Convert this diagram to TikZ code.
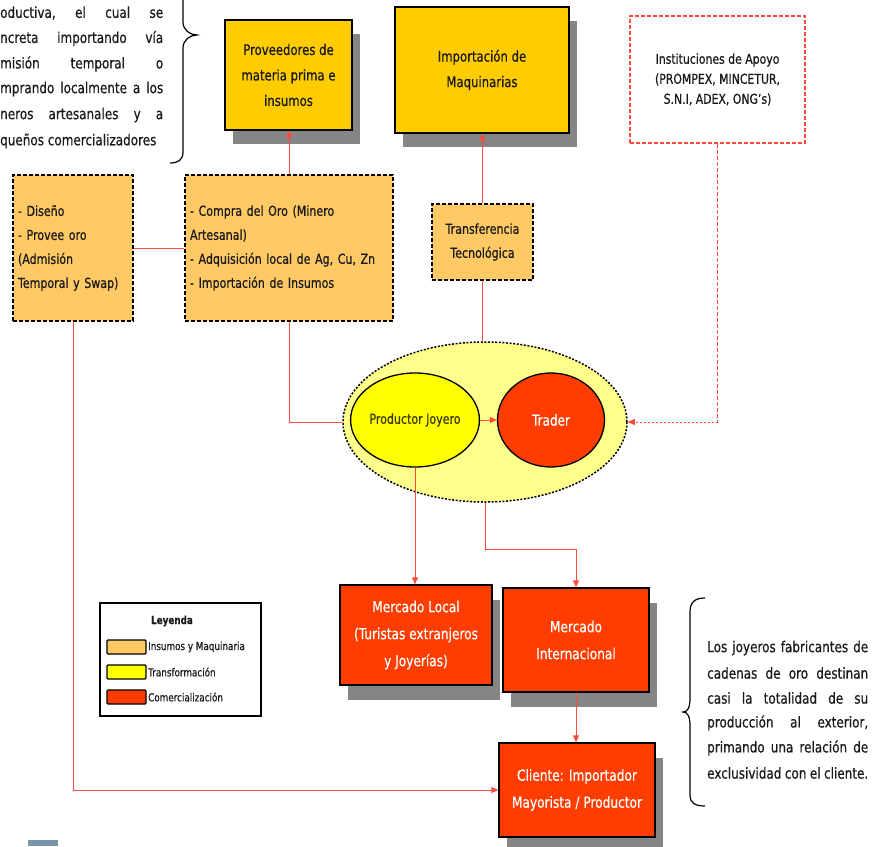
\documentclass[tikz,border=0pt]{standalone}
\usepackage{fontspec}
\setmainfont{DejaVu Sans}[FakeStretch=0.8,FakeBold=0.6]
\usetikzlibrary{shapes.geometric,shadows,arrows.meta}
\definecolor{gold}{HTML}{FFCC00}
\definecolor{lightorange}{HTML}{FFC966}
\definecolor{paleyellow}{HTML}{FFFF8C}
\definecolor{brightyellow}{HTML}{FFFF00}
\definecolor{redorange}{HTML}{FF3D00}
\definecolor{linkred}{HTML}{FF4B3E}
\definecolor{shadowgray}{HTML}{858585}
\definecolor{darktext}{HTML}{1A1A1A}
\definecolor{olivetext}{HTML}{3A3A00}
\newcommand\fsz[2]{\fontsize{#1}{#2}\selectfont}
\begin{document}
\begin{tikzpicture}[x=1pt,y=-1pt,
  goldbox/.style={draw=black,line width=1.3pt,fill=gold,align=center,inner sep=0pt,
    text=darktext,font=\fsz{14.6}{25.5},
    drop shadow={shadow xshift=8pt,shadow yshift=-14pt,fill=shadowgray,opacity=1}},
  redbox/.style={draw=black,line width=1.3pt,fill=redorange,align=center,inner sep=0pt,
    text=white,font=\fsz{15.2}{27},
    drop shadow={shadow xshift=8pt,shadow yshift=-15pt,fill=shadowgray,opacity=1}},
  inbox/.style={draw=black,line width=1.3pt,dash pattern=on 4pt off 2pt,fill=lightorange,
    inner sep=5pt,align=left,text=darktext,font=\fsz{13.8}{24}},
  instbox/.style={draw=linkred,line width=1.2pt,dash pattern=on 4pt off 2pt,fill=white,
    align=center,inner sep=0pt,text=darktext,font=\fsz{13.6}{20}},
  oval/.style={ellipse,inner sep=0pt,line width=1.3pt,draw=black},
  plaintext/.style={inner sep=0pt,text=darktext,font=\fsz{15}{25}},
  link/.style={draw=linkred,line width=1pt},
  tip/.style={-{Triangle[length=7pt,width=6pt]}},
  swatch/.style={draw=black,line width=1.2pt,rounded corners=1pt,minimum width=39pt,minimum height=14pt,inner sep=0pt},
  legtext/.style={inner sep=0pt,anchor=west,text=darktext,font=\fsz{11}{12}}
]
\path[use as bounding box] (0,0) rectangle (878,846);
\clip (0,0) rectangle (878,846);

% top-left text (cut at the left edge)
\node[plaintext,anchor=west] (tl1) at (0,13) {\hbox to 163pt{oductiva,\hfill el\hfill cual\hfill se}};
\node[plaintext,anchor=west] (tl2) at (0,38.5) {\hbox to 163pt{ncreta\hfill importando\hfill vía}};
\node[plaintext,anchor=west] (tl3) at (0,64) {\hbox to 163pt{misión\hfill temporal\hfill o}};
\node[plaintext,anchor=west] (tl4) at (0,89) {\hbox to 163pt{mprando\hfill localmente\hfill a\hfill los}};
\node[plaintext,anchor=west] (tl5) at (0,115) {\hbox to 163pt{neros\hfill artesanales\hfill y\hfill a}};
\node[plaintext,anchor=west] (tl6) at (0,141) {queños comercializadores};
% brace top-left
\draw[line width=1.2pt,black] (170,-25) .. controls (178,-25) and (183,-20) .. (183,-12) -- (183,22)
  .. controls (183,30) and (190,35) .. (197,35) .. controls (190,35) and (183,40) .. (183,48)
  -- (183,152) .. controls (183,160) and (178,163) .. (170,163);

% top boxes
\node[goldbox,minimum width=127pt,minimum height=110pt] (prov) at (288.5,75) {Proveedores de\\materia prima e\\insumos};
\node[goldbox,minimum width=174pt,minimum height=126pt] (imp) at (482,70) {Importación de\\Maquinarias};
\node[instbox,minimum width=175pt,minimum height=127pt] (inst) at (717.5,79.5) {\raisebox{-2pt}{\parbox{170pt}{\centering Instituciones de Apoyo\\(PROMPEX, MINCETUR,\\S.N.I, ADEX, ONG’s)}}};

% input boxes
\node[inbox,text width=110pt,minimum height=146pt] (diseno) at (73,248) {- Diseño\\- Provee oro\\(Admisión\\Temporal y Swap)};
\node[inbox,text width=198pt,minimum height=146pt] (compra) at (289,248) {- Compra del Oro (Minero\\Artesanal)\\- Adquisición local de Ag, Cu, Zn\\- Importación de Insumos};
\node[inbox,align=center,inner sep=0pt,minimum width=101pt,minimum height=76pt] (trans) at (482.5,242) {Transferencia\\Tecnológica};

% ellipses
\node[oval,fill=paleyellow,dash pattern=on 2pt off 1.6pt,line width=1.5pt,minimum width=284pt,minimum height=160pt] (outer) at (485,422) {};
\node[oval,fill=brightyellow,minimum width=106pt,minimum height=94pt,text=olivetext,font=\fsz{13.8}{16}] (prod) at (415,420) {Productor Joyero};
\node[oval,fill=redorange,minimum width=107pt,minimum height=94pt,text=white,font=\fsz{15}{16}] (trader) at (551,420) {Trader};

% markets
\node[redbox,minimum width=152pt,minimum height=100pt] (ml) at (416,635) {Mercado Local\\(Turistas extranjeros\\y Joyerías)};
\node[redbox,minimum width=146pt,minimum height=104pt] (mi) at (576,640) {Mercado\\Internacional};
\node[redbox,minimum width=156pt,minimum height=94pt] (cli) at (577,790) {Cliente: Importador\\Mayorista / Productor};

% legend
\node[draw=black,line width=1.2pt,fill=white,minimum width=161pt,minimum height=113pt,inner sep=0pt] (leg) at (180.5,659.5) {};
\node[inner sep=0pt,text=darktext,font=\bfseries\fsz{11}{12}] (legtitle) at (172,621) {Leyenda};
\node[swatch,fill=lightorange] (sw1) at (126.5,647) {};
\node[swatch,fill=brightyellow] (sw2) at (126.5,672) {};
\node[swatch,fill=redorange] (sw3) at (126.5,697) {};
\node[legtext] (lt1) at (148,647) {Insumos y Maquinaria};
\node[legtext] (lt2) at (148,672) {Transformación};
\node[legtext] (lt3) at (148,697) {Comercialización};

% right text
\node[plaintext,anchor=west] (rt1) at (707,648) {\hbox to 161pt{Los\hfill joyeros\hfill fabricantes\hfill de}};
\node[plaintext,anchor=west] (rt2) at (707,673) {\hbox to 161pt{cadenas\hfill de\hfill oro\hfill destinan}};
\node[plaintext,anchor=west] (rt3) at (707,698) {\hbox to 161pt{casi\hfill la\hfill totalidad\hfill de\hfill su}};
\node[plaintext,anchor=west] (rt4) at (707,723) {\hbox to 161pt{producción\hfill al\hfill exterior,}};
\node[plaintext,anchor=west] (rt5) at (707,748) {\hbox to 161pt{primando\hfill una\hfill relación\hfill de}};
\node[plaintext,anchor=west] (rt6) at (707,773) {\hbox to 161pt{exclusividad\hfill con\hfill el\hfill cliente.}};
% brace right
\draw[line width=1.2pt,black] (705,598) .. controls (695,598) and (690,602) .. (690,612) -- (690,698)
  .. controls (690,707) and (688,712) .. (683,712) .. controls (688,712) and (690,717) .. (690,726)
  -- (690,795) .. controls (690,803) and (695,806) .. (705,806);

% connectors
\draw[link,tip] (compra.north) -- (compra.north |- prov.south);
\draw[link,tip] (trans.north) -- (trans.north |- imp.south);
\draw[link] (diseno.east) -- (compra.west);
\draw[link] (compra.south) |- (outer.west);
\draw[link] (trans.south) -- (trans.south |- outer.north);
\coordinate (icorner) at (inst.south |- outer.east);
\draw[link,dash pattern=on 4pt off 2pt] (inst.south) -- (icorner);
\draw[link,tip,dash pattern=on 2pt off 2pt] (icorner) -- (outer.east);
\draw[link,tip] (prod.east) -- (trader.west);
\draw[link,tip] (prod.south) -- (prod.south |- ml.north);
\coordinate (ocorner) at ([yshift=-47pt]outer.south);
\draw[link,tip] (outer.south) -- (ocorner) -| (mi.north);
\draw[link,tip] (mi.south) -- (mi.south |- cli.north);
\draw[link,tip] (diseno.south) |- (cli.west);

% logo fragment at bottom-left
\fill[color={rgb,255:red,120;green,150;blue,170}] (28,840) rectangle (58,846);
\end{tikzpicture}
\end{document}
